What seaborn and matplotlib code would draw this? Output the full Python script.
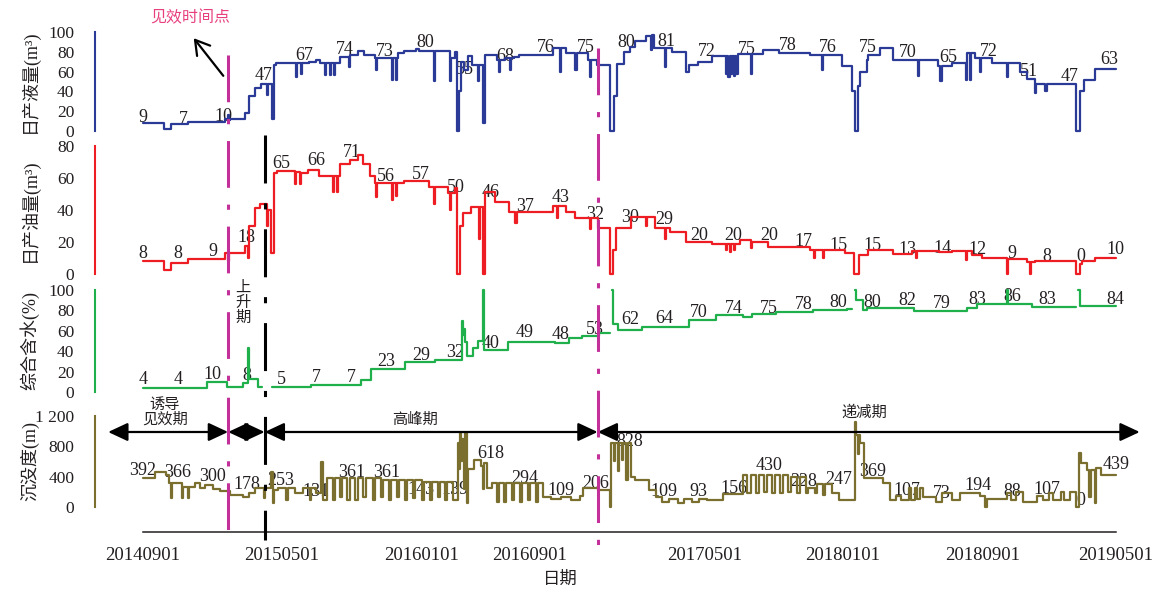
import numpy as np
import pandas as pd
import matplotlib
matplotlib.use("Agg")
import matplotlib.pyplot as plt
import matplotlib.dates as mdates
import matplotlib.transforms as mtransforms
from matplotlib.lines import Line2D
import seaborn as sns

# ---- values (step series: date where a level starts, level) ----
liquid = [
    ("2014-09-01", 8), ("2014-10-08", 2), ("2014-10-20", 7), ("2014-11-19", 9),
    ("2015-01-22", 12), ("2015-01-27", 16), ("2015-01-29", 11), ("2015-02-01", 12),
    ("2015-02-26", 18), ("2015-03-05", 35), ("2015-03-16", 43), ("2015-03-26", 47),
    ("2015-04-06", 36), ("2015-04-08", 47), ("2015-04-15", 12), ("2015-04-18", 67),
    ("2015-04-22", 69), ("2015-05-27", 55), ("2015-05-29", 69), ("2015-06-04", 58),
    ("2015-06-06", 69), ("2015-06-18", 70), ("2015-07-01", 72), ("2015-07-08", 69),
    ("2015-07-16", 57), ("2015-07-18", 69), ("2015-07-25", 57), ("2015-07-27", 69),
    ("2015-08-01", 57), ("2015-08-03", 69), ("2015-08-12", 75), ("2015-08-27", 65),
    ("2015-08-30", 77), ("2015-09-12", 81), ("2015-09-23", 77), ("2015-10-12", 74),
    ("2015-10-14", 62), ("2015-10-16", 74), ("2015-11-11", 52), ("2015-11-13", 74),
    ("2015-11-18", 52), ("2015-11-20", 74), ("2015-11-22", 79), ("2015-12-02", 81),
    ("2015-12-23", 83), ("2015-12-28", 81), ("2016-01-23", 51), ("2016-01-25", 81),
    ("2016-02-20", 50), ("2016-02-22", 74), ("2016-03-01", 80), ("2016-03-03", 0),
    ("2016-03-07", 40), ("2016-03-10", 70), ("2016-03-16", 62), ("2016-03-23", 76),
    ("2016-03-30", 67), ("2016-04-09", 50), ("2016-04-11", 67), ("2016-04-18", 8),
    ("2016-04-21", 77), ("2016-05-12", 72), ("2016-05-16", 60), ("2016-05-18", 72),
    ("2016-05-27", 74), ("2016-06-04", 62), ("2016-06-06", 74), ("2016-06-11", 75),
    ("2016-06-20", 77), ("2016-08-18", 84), ("2016-08-31", 60), ("2016-09-02", 84),
    ("2016-09-10", 79), ("2016-09-27", 62), ("2016-09-29", 79), ("2016-10-19", 72),
    ("2016-10-22", 55), ("2016-10-24", 72), ("2016-11-04", 67), ("2016-11-27", 0),
    ("2016-12-03", 35), ("2016-12-09", 68), ("2016-12-22", 80), ("2016-12-31", 85),
    ("2017-01-09", 91), ("2017-01-28", 96), ("2017-02-06", 82), ("2017-02-08", 97),
    ("2017-02-12", 84), ("2017-03-03", 65), ("2017-03-05", 84), ("2017-03-15", 80),
    ("2017-04-08", 60), ("2017-04-14", 67), ("2017-04-29", 70), ("2017-05-24", 76),
    ("2017-06-17", 58), ("2017-06-19", 76), ("2017-06-22", 55), ("2017-06-24", 76),
    ("2017-06-27", 58), ("2017-06-29", 76), ("2017-07-02", 56), ("2017-07-04", 76),
    ("2017-07-06", 58), ("2017-07-08", 78), ("2017-07-31", 58), ("2017-08-02", 78),
    ("2017-08-21", 82), ("2017-09-18", 79), ("2017-11-12", 77), ("2017-12-02", 62),
    ("2017-12-04", 77), ("2018-01-06", 66), ("2018-01-25", 40), ("2018-01-29", 0),
    ("2018-02-03", 45), ("2018-02-08", 60), ("2018-02-19", 72), ("2018-02-21", 77),
    ("2018-03-15", 84), ("2018-04-06", 72), ("2018-05-19", 56), ("2018-05-21", 72),
    ("2018-06-24", 66), ("2018-06-28", 50), ("2018-06-30", 66), ("2018-07-19", 69),
    ("2018-08-12", 52), ("2018-08-14", 79), ("2018-08-18", 52), ("2018-08-20", 79),
    ("2018-08-27", 74), ("2018-09-05", 60), ("2018-09-07", 74), ("2018-09-27", 69),
    ("2018-10-22", 55), ("2018-10-24", 69), ("2018-11-15", 60), ("2018-11-27", 53),
    ("2018-12-10", 38), ("2018-12-12", 47), ("2018-12-29", 40), ("2018-12-31", 47),
    ("2019-02-21", 0), ("2019-02-27", 40), ("2019-03-06", 52), ("2019-03-25", 63),
    ("2019-05-01", 63),
]

oil = [
    ("2014-09-01", 8), ("2014-10-08", 2.5), ("2014-10-20", 7), ("2014-11-19", 9.4),
    ("2015-01-22", 13), ("2015-01-27", 8), ("2015-01-29", 13), ("2015-02-26", 17.5),
    ("2015-03-03", 10), ("2015-03-05", 30), ("2015-03-16", 41), ("2015-03-25", 44),
    ("2015-04-06", 30), ("2015-04-08", 40), ("2015-04-13", 13), ("2015-04-18", 63),
    ("2015-04-23", 64.5), ("2015-05-25", 56), ("2015-05-27", 64), ("2015-06-03", 56),
    ("2015-06-05", 63), ("2015-06-17", 65), ("2015-07-07", 61), ("2015-07-31", 51),
    ("2015-08-02", 61), ("2015-08-06", 51), ("2015-08-08", 61), ("2015-08-12", 69),
    ("2015-08-30", 71), ("2015-09-13", 74.5), ("2015-09-22", 69), ("2015-10-03", 61),
    ("2015-10-12", 57), ("2015-10-14", 48), ("2015-10-16", 57), ("2015-11-11", 46),
    ("2015-11-13", 57), ("2015-11-18", 49), ("2015-11-20", 57), ("2015-12-02", 58),
    ("2016-01-14", 54.5), ("2016-01-23", 44), ("2016-01-25", 54.5), ("2016-02-17", 50.5),
    ("2016-02-20", 40), ("2016-02-22", 50.5), ("2016-03-01", 54), ("2016-03-03", 0),
    ("2016-03-09", 30), ("2016-03-14", 38), ("2016-03-28", 42), ("2016-04-11", 22),
    ("2016-04-13", 42), ("2016-04-18", 0), ("2016-04-22", 51), ("2016-05-09", 45),
    ("2016-06-03", 39), ("2016-06-14", 32), ("2016-06-16", 39), ("2016-08-18", 42.5),
    ("2016-08-26", 35), ("2016-08-28", 42.5), ("2016-09-10", 39), ("2016-09-27", 35),
    ("2016-10-22", 28), ("2016-10-24", 35), ("2016-11-05", 29), ("2016-11-27", 0),
    ("2016-12-02", 15), ("2016-12-07", 29), ("2017-01-03", 35.5), ("2017-01-28", 30),
    ("2017-01-30", 35.5), ("2017-02-14", 29), ("2017-03-03", 22), ("2017-03-05", 29),
    ("2017-03-11", 26), ("2017-04-08", 20), ("2017-05-24", 19), ("2017-06-17", 15),
    ("2017-06-19", 19), ("2017-06-24", 14), ("2017-06-26", 19), ("2017-07-02", 15),
    ("2017-07-04", 19), ("2017-07-12", 21), ("2017-07-31", 16), ("2017-08-02", 20),
    ("2017-08-31", 17), ("2017-11-12", 15), ("2017-11-18", 10), ("2017-11-20", 15),
    ("2017-12-04", 10), ("2017-12-06", 15), ("2018-01-12", 13), ("2018-01-27", 0),
    ("2018-02-06", 12), ("2018-02-21", 15), ("2018-04-06", 12.5), ("2018-05-09", 14.6),
    ("2018-05-16", 10), ("2018-05-18", 14.6), ("2018-06-25", 13.5), ("2018-07-19", 14.6),
    ("2018-08-12", 9), ("2018-08-14", 14.6), ("2018-08-23", 12), ("2018-09-09", 10),
    ("2018-10-22", 0), ("2018-10-24", 9.5), ("2018-11-27", 7.5), ("2018-12-02", 0),
    ("2018-12-04", 7.5), ("2018-12-10", 8), ("2019-02-21", 0), ("2019-02-27", 6),
    ("2019-03-03", 8), ("2019-03-25", 10), ("2019-05-01", 10),
]

# NaN marks a break in the line
watercut = [
    ("2014-09-01", 4), ("2014-12-22", 10), ("2015-01-26", 5), ("2015-02-23", 9),
    ("2015-03-03", 43), ("2015-03-05", 13), ("2015-03-21", 5), ("2015-03-28", 5),
    ("2015-03-29", np.nan),
    ("2015-04-15", 5), ("2015-06-22", 7), ("2015-09-17", 12), ("2015-10-05", 23),
    ("2015-12-03", 29), ("2016-01-25", 31), ("2016-03-12", 70), ("2016-03-14", 56),
    ("2016-03-16", 62), ("2016-03-18", 49), ("2016-03-21", 35), ("2016-04-01", 43),
    ("2016-04-09", 50), ("2016-04-18", 100), ("2016-04-20", 41), ("2016-06-01", 49),
    ("2016-08-22", 48), ("2016-09-15", 53), ("2016-10-08", 55), ("2016-11-07", 57.5),
    ("2016-11-27", 57.5),
    ("2016-11-28", np.nan),
    ("2016-11-30", 100), ("2016-12-02", 67), ("2016-12-11", 61), ("2017-01-22", 64),
    ("2017-04-14", 71), ("2017-05-31", 75.5), ("2017-07-17", 73.5), ("2017-08-03", 76),
    ("2017-09-14", 78), ("2017-11-17", 80), ("2018-01-15", 81), ("2018-01-25", 81),
    ("2018-01-26", np.nan),
    ("2018-01-29", 100), ("2018-01-31", 90), ("2018-02-13", 80), ("2018-02-19", 82),
    ("2018-05-12", 79), ("2018-08-14", 82), ("2018-08-31", 86), ("2018-10-23", 100),
    ("2018-10-25", 86), ("2018-12-06", 83), ("2019-02-20", 83),
    ("2019-02-22", np.nan),
    ("2019-02-24", 100), ("2019-02-27", 84), ("2019-05-01", 84),
]

submergence = [
    ("2014-09-01", 380), ("2014-09-22", 466), ("2014-10-12", 420), ("2014-10-17", 312),
    ("2014-10-20", 120), ("2014-10-22", 312), ("2014-11-08", 120), ("2014-11-10", 264),
    ("2014-11-18", 120), ("2014-11-20", 264), ("2014-12-01", 312), ("2014-12-10", 255),
    ("2014-12-19", 290), ("2015-01-01", 237), ("2015-01-14", 205), ("2015-02-01", 158),
    ("2015-02-23", 136), ("2015-03-05", 180), ("2015-03-16", 255), ("2015-03-31", 120),
    ("2015-04-02", 255), ("2015-04-13", 466), ("2015-04-16", 53), ("2015-04-19", 230),
    ("2015-04-25", 246), ("2015-05-10", 92), ("2015-05-13", 246), ("2015-05-25", 180),
    ("2015-06-08", 246), ("2015-06-20", 92), ("2015-06-23", 246), ("2015-07-01", 180),
    ("2015-07-09", 598), ("2015-07-14", 92), ("2015-07-20", 378), ("2015-07-30", 92),
    ("2015-08-03", 378), ("2015-08-12", 136), ("2015-08-16", 378), ("2015-08-25", 92),
    ("2015-08-29", 378), ("2015-09-08", 92), ("2015-09-12", 378), ("2015-09-22", 136),
    ("2015-09-26", 378), ("2015-10-08", 92), ("2015-10-12", 378), ("2015-10-22", 136),
    ("2015-10-26", 356), ("2015-11-06", 92), ("2015-11-10", 356), ("2015-11-20", 136),
    ("2015-11-24", 356), ("2015-12-04", 92), ("2015-12-08", 356), ("2015-12-18", 114),
    ("2015-12-22", 356), ("2016-01-02", 92), ("2016-01-06", 334), ("2016-01-16", 92),
    ("2016-01-20", 334), ("2016-01-30", 136), ("2016-02-03", 334), ("2016-02-12", 92),
    ("2016-02-16", 334), ("2016-02-26", 92), ("2016-03-05", 840), ("2016-03-07", 500),
    ("2016-03-09", 972), ("2016-03-11", 600), ("2016-03-13", 900), ("2016-03-16", 240),
    ("2016-03-18", 972), ("2016-03-21", 50), ("2016-03-23", 500), ("2016-04-02", 620),
    ("2016-04-14", 540), ("2016-04-18", 240), ("2016-04-20", 580), ("2016-04-25", 245),
    ("2016-05-04", 310), ("2016-05-12", 70), ("2016-05-16", 310), ("2016-05-25", 70),
    ("2016-05-29", 310), ("2016-06-08", 92), ("2016-06-12", 310), ("2016-06-22", 70),
    ("2016-06-26", 310), ("2016-07-06", 92), ("2016-07-10", 310), ("2016-07-20", 70),
    ("2016-07-24", 310), ("2016-08-01", 130), ("2016-08-15", 100), ("2016-09-01", 130),
    ("2016-09-20", 92), ("2016-10-05", 150), ("2016-10-10", 250), ("2016-11-05", 230),
    ("2016-11-26", 0), ("2016-11-29", 840), ("2016-12-03", 600), ("2016-12-06", 840),
    ("2016-12-10", 480), ("2016-12-13", 840), ("2016-12-17", 620), ("2016-12-20", 840),
    ("2016-12-25", 360), ("2016-12-28", 840), ("2017-01-02", 400), ("2017-01-10", 360),
    ("2017-02-03", 224), ("2017-02-15", 136), ("2017-02-25", 70), ("2017-03-10", 110),
    ("2017-03-25", 48), ("2017-04-05", 100), ("2017-04-20", 70), ("2017-05-01", 110),
    ("2017-05-15", 92), ("2017-06-12", 175), ("2017-07-17", 422), ("2017-07-25", 180),
    ("2017-07-31", 422), ("2017-08-09", 180), ("2017-08-14", 422), ("2017-08-23", 200),
    ("2017-08-28", 422), ("2017-09-06", 180), ("2017-09-11", 422), ("2017-09-20", 180),
    ("2017-09-25", 422), ("2017-10-05", 200), ("2017-10-10", 400), ("2017-10-20", 180),
    ("2017-10-25", 400), ("2017-11-04", 180), ("2017-11-08", 250), ("2017-11-20", 180),
    ("2017-11-24", 300), ("2017-12-04", 160), ("2017-12-08", 300), ("2017-12-20", 180),
    ("2018-01-01", 92), ("2018-01-29", 1125), ("2018-01-31", 950), ("2018-02-03", 700),
    ("2018-02-05", 950), ("2018-02-08", 840), ("2018-02-14", 380), ("2018-03-19", 310),
    ("2018-04-01", 92), ("2018-04-12", 140), ("2018-04-20", 92), ("2018-05-04", 255),
    ("2018-05-08", 92), ("2018-05-14", 255), ("2018-05-18", 110), ("2018-05-24", 255),
    ("2018-05-28", 136), ("2018-06-20", 70), ("2018-07-01", 180), ("2018-07-19", 92),
    ("2018-08-01", 180), ("2018-09-05", 140), ("2018-09-15", 0), ("2018-09-17", 110),
    ("2018-10-22", 180), ("2018-10-30", 92), ("2018-11-08", 200), ("2018-11-20", 70),
    ("2018-12-14", 150), ("2018-12-24", 92), ("2019-01-05", 180), ("2019-01-12", 92),
    ("2019-01-25", 200), ("2019-01-30", 92), ("2019-02-10", 202), ("2019-02-21", 0),
    ("2019-02-25", 710), ("2019-03-01", 580), ("2019-03-12", 490), ("2019-03-16", 136),
    ("2019-03-18", 490), ("2019-03-25", 53), ("2019-03-27", 510), ("2019-04-05", 422),
    ("2019-05-01", 422),
]

# value labels written on the curves
label_dates = pd.date_range("2014-09-01", "2019-05-01", freq="2MS")
liquid_label_dates = pd.date_range("2014-09-01", "2019-04-20", periods=25)
liquid_labels = ["9", "7", "10", "47", "67", "74", "73", "80", "55", "68", "76", "75", "80",
                 "81", "72", "75", "78", "76", "75", "70", "65", "72", "51", "47", "63"]
liquid_label_y = [14, 12, 15, 56, 76, 82, 80, 89, 62, 75, 84, 84, 89,
                  90, 80, 82, 86, 84, 84, 79, 74, 80, 60, 55, 72]
oil_labels = ["8", "8", "9", "18", "65", "66", "71", "56", "57", "50", "46", "37", "43", "32",
              "30", "29", "20", "20", "20", "17", "15", "15", "13", "14", "12", "9", "8", "0", "10"]
oil_label_y = [12.5, 12.5, 14, 22.5, 69, 71, 76, 61, 62, 54, 51, 42, 47.5, 37,
               35, 34, 24, 24, 24, 20, 17.5, 18, 15, 16, 15, 13, 11, 11, 15]
watercut_labels = ["4", "4", "10", "8", "5", "7", "7", "23", "29", "32", "40", "49", "48", "53",
                   "62", "64", "70", "74", "75", "78", "80", "80", "82", "79", "83", "86", "83", "", "84"]
watercut_label_y = [12, 12, 17, 16, 12, 14, 14, 30, 36, 39, 48, 58, 56, 61,
                    71, 72.5, 78, 82, 82, 86, 88, 88, 89.5, 87, 91, 94, 91, 0, 91]
sub_labels = ["392", "366", "300", "178", "253", "131", "361", "361", "143", "139", "618", "294",
              "109", "206", "828", "109", "93", "156", "430", "228", "247", "369", "107", "73",
              "194", "88", "107", "0", "439"]
sub_label_y = [479, 453, 400, 290, 347, 202, 453, 453, 237, 237, 708, 378,
               215, 312, 862, 202, 207, 246, 545, 334, 356, 466, 215, 180,
               277, 202, 224, 92, 554]

x_tick_dates = ["2014-09-01", "2015-05-01", "2016-01-01", "2016-07-09",
                "2017-05-11", "2018-01-08", "2018-09-10", "2019-05-01"]
x_tick_labels = ["20140901", "20150501", "20160101", "20160901",
                 "20170501", "20180101", "20180901", "20190501"]

effect_dates = ["2015-01-28", "2016-11-05"]   # 见效时间点 / start of decline
rise_end_date = "2015-04-02"
phase_bounds = ["2014-07-02", "2015-01-28", "2015-04-02", "2016-11-05", "2019-06-12"]

BLUE = "#2b3a96"
RED = "#ee1d23"
GREEN = "#1fb04b"
OLIVE = "#7a6f2e"
MAGENTA = "#c4309a"
INK = "#231f20"

sns.set_style("white")
plt.rcParams["font.family"] = ["Liberation Serif", "Noto Sans CJK SC"]
plt.rcParams["axes.unicode_minus"] = False

W, H = 1163, 590
fig = plt.figure(figsize=(W / 100, H / 100), dpi=100)
XMIN = mdates.date2num(pd.Timestamp("2014-06-09"))
XMAX = mdates.date2num(pd.Timestamp("2019-06-30"))


def dnum(d):
    return mdates.date2num(pd.Timestamp(d))


def to_frame(points):
    df = pd.DataFrame(points, columns=["date", "value"])
    df["date"] = pd.to_datetime(df["date"])
    df["seg"] = df["value"].isna().cumsum()
    return df.dropna()


def add_panel(top, bottom):
    return fig.add_axes([95 / W, 1 - bottom / H, 1055 / W, (bottom - top) / H])


def draw_series(ax, points, color):
    df = to_frame(points)
    sns.lineplot(data=df, x="date", y="value", units="seg", estimator=None,
                 color=color, lw=1.6, drawstyle="steps-post", ax=ax, legend=False, zorder=3)
    for ln in ax.lines:
        ln.set_clip_on(False)


def style_panel(ax, color, ylim, yticks, yticklabels, ylabel, label_y):
    ax.set_xlim(XMIN, XMAX)
    ax.set_ylim(*ylim)
    ax.patch.set_alpha(0)
    for s in ["top", "right", "bottom"]:
        ax.spines[s].set_visible(False)
    ax.spines["left"].set_color(color)
    ax.spines["left"].set_linewidth(1.5)
    ax.spines["left"].set_bounds(yticks[0], yticks[-1])
    ax.set_yticks(yticks)
    ax.set_yticklabels(yticklabels)
    ax.tick_params(axis="y", direction="in", length=5, width=1.5, color=color,
                   labelsize=12.5, labelcolor=INK, pad=15)
    ax.set_xticks([])
    ax.set_xlabel("")
    ax.set_ylabel(ylabel, fontsize=13, color=INK)
    ax.yaxis.set_label_coords(-56 / 1055, label_y)


def put_labels(ax, dates, texts, ys):
    for d, t, y in zip(dates, texts, ys):
        ax.text(dnum(d), y, t, ha="center", va="center", fontsize=13,
                color=INK, zorder=1, clip_on=False)


ax1 = add_panel(32, 131)
ax2 = add_panel(146, 274)
ax3 = add_panel(290, 392)
ax4 = add_panel(416, 532)

draw_series(ax1, liquid, BLUE)
draw_series(ax2, oil, RED)
draw_series(ax3, watercut, GREEN)
draw_series(ax4, submergence, OLIVE)

style_panel(ax1, BLUE, (0, 100), [0, 20, 40, 60, 80, 100],
            ["0", "20", "40", "60", "80", "100"], "日产液量(m³)", 0.5)
style_panel(ax2, RED, (0, 80), [0, 20, 40, 60, 80],
            ["0", "20", "40", "60", "80"], "日产油量(m³)", 0.5)
style_panel(ax3, GREEN, (0, 100), [0, 20, 40, 60, 80, 100],
            ["0", "20", "40", "60", "80", "100"], "综合含水(%)", 0.5)
style_panel(ax4, OLIVE, (-330, 1200), [0, 400, 800, 1200],
            ["0", "400", "800", "1 200"], "沉没度(m)", 0.615)

# bottom date axis lives on the last panel
ax4.spines["bottom"].set_visible(True)
ax4.spines["bottom"].set_color(INK)
ax4.spines["bottom"].set_linewidth(1.1)
ax4.spines["bottom"].set_bounds(dnum("2014-09-01"), dnum("2019-05-01"))
ax4.set_xticks([dnum(d) for d in x_tick_dates])
ax4.set_xticklabels(x_tick_labels)
ax4.tick_params(axis="x", direction="in", length=9, width=1.1, color=INK,
                labelsize=13.5, labelcolor=INK, pad=11)

put_labels(ax1, liquid_label_dates, liquid_labels, liquid_label_y)
put_labels(ax2, label_dates, oil_labels, oil_label_y)
put_labels(ax3, label_dates, watercut_labels, watercut_label_y)
put_labels(ax4, label_dates, sub_labels, sub_label_y)

# stage arrows
arrow_y = 989
for a, b in zip(phase_bounds[:-1], phase_bounds[1:]):
    ax4.annotate("", xy=(dnum(a), arrow_y), xytext=(dnum(b), arrow_y),
                 arrowprops=dict(arrowstyle="<|-|>,head_length=0.6,head_width=0.28",
                                 mutation_scale=20, lw=1.6, color="black",
                                 shrinkA=0, shrinkB=0),
                 annotation_clip=False)
ax4.text(dnum("2014-10-09"), 1250, "诱导\n见效期", ha="center", va="center",
         fontsize=11, color=INK, linespacing=1.0)
ax4.text(dnum("2015-12-21"), 1148, "高峰期", ha="center", va="center", fontsize=11, color=INK)
ax4.text(dnum("2018-02-15"), 1253, "递减期", ha="center", va="center", fontsize=11, color=INK)
ax3.text(dnum("2015-02-23"), 87, "上\n升\n期", ha="center", va="center",
         fontsize=11, color=INK, linespacing=1.05)

# event lines spanning all panels
trans = mtransforms.blended_transform_factory(ax4.transData, fig.transFigure)
for d, top, bottom in zip(effect_dates, [55, 48], [535, 547]):
    fig.add_artist(Line2D([dnum(d), dnum(d)], [1 - top / H, 1 - bottom / H], transform=trans,
                          color=MAGENTA, lw=2.2, linestyle=(0, (15.3, 5.5, 1.7, 5.5))))
fig.add_artist(Line2D([dnum(rise_end_date)] * 2, [1 - 135 / H, 1 - 540 / H], transform=trans,
                      color="black", lw=2.2, linestyle=(0, (15.7, 6.5, 2, 6.5))))

fig.text(190 / W, 1 - 18 / H, "见效时间点", ha="center", va="center", fontsize=11.5, color="#e8407f")
ax1.annotate("", xy=(192 / W, 1 - 36 / H), xycoords="figure fraction",
             xytext=(225 / W, 1 - 78 / H), textcoords="figure fraction",
             arrowprops=dict(arrowstyle="->,head_length=0.5,head_width=0.3",
                             mutation_scale=20, lw=1.6, color="black"))

fig.text(560 / W, 1 - 580 / H, "日期", ha="center", va="center", fontsize=12.5, color=INK)

fig.savefig("out.png", dpi=100)
